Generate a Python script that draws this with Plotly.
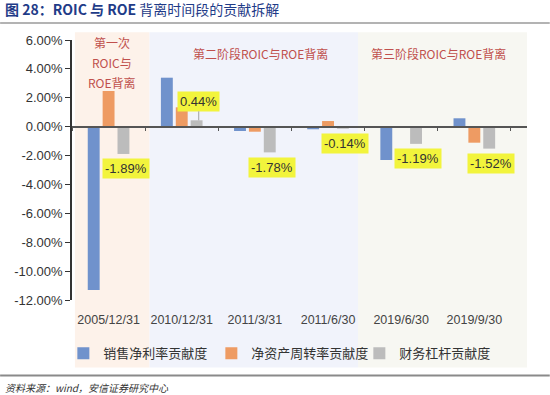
import plotly.graph_objects as go

categories = ["2005/12/31", "2010/12/31", "2011/3/31", "2011/6/30", "2019/6/30", "2019/9/30"]
net_margin = [-11.3, 3.39, -0.30, -0.18, -2.31, 0.58]
asset_turnover = [2.47, 1.34, -0.35, 0.39, 0.0, -1.11]
leverage = [-1.89, 0.44, -1.78, -0.14, -1.19, -1.52]
series_names = ["销售净利率贡献度", "净资产周转率贡献度", "财务杠杆贡献度"]
y_ticks = [6, 4, 2, 0, -2, -4, -6, -8, -10, -12]
y_tick_text = ["%.2f%%" % v for v in y_ticks]

# shaded phases: (start, end) in category units
phase_spans = [(-0.46, 0.56), (0.56, 3.41), (3.41, 5.72)]
phase_colors = ["#fdf2ea", "#f1f3fb", "#f7f7f2"]
phase1_lines = ["第一次", "ROIC与", "ROE背离"]
phase_labels = ["第二阶段ROIC与ROE背离", "第三阶段ROIC与ROE背离"]
phase_label_x = [2.07, 4.51]

colors = ["#7092cc", "#ee9b63", "#bcbcbc"]

fig = go.Figure()
for name, vals, c in zip(series_names, [net_margin, asset_turnover, leverage], colors):
    fig.add_trace(go.Bar(x=categories, y=vals, name=name, marker_color=c,
                         marker_line_width=0, hoverinfo="skip"))

# invisible trace on the zero-line axis
fig.add_trace(go.Scatter(x=categories, y=[0]*len(categories), xaxis="x2", mode="markers",
                         marker=dict(opacity=0), showlegend=False, hoverinfo="skip"))

shapes = []
for (a, b), col in zip(phase_spans, phase_colors):
    shapes.append(dict(type="rect", xref="x", yref="paper", x0=a, x1=b, y0=-0.26, y1=1.03,
                       fillcolor=col, line_width=0, layer="below"))
# header and footer rules
shapes.append(dict(type="line", xref="paper", yref="paper", x0=-0.158, x1=1.05, y0=1.065, y1=1.065,
                   line=dict(color="#9a9a9a", width=1.5)))
shapes.append(dict(type="line", xref="paper", yref="paper", x0=-0.158, x1=1.05, y0=-0.29, y1=-0.29,
                   line=dict(color="#8a8a8a", width=2)))

label_font = dict(family="Noto Sans CJK SC", size=12, color="#c0504d")
annotations = []
for k, line in enumerate(phase1_lines):
    annotations.append(dict(x=0.04, y=4.43, xref="x", yref="y", text=line, showarrow=False,
                            yshift=20 - 20 * k, font=label_font))
for txt, px in zip(phase_labels, phase_label_x):
    annotations.append(dict(x=px, y=5.05, xref="x", yref="y", text=txt,
                            showarrow=False, font=label_font))

for i, (cat, v) in enumerate(zip(categories, leverage)):
    label = "%.2f%%" % v
    common = dict(x=cat, y=v, xref="x", yref="y", text=label, xshift=17,
                  font=dict(family="Arial", size=13, color="#333333"),
                  bgcolor="#f2f43c", borderpad=2)
    if v > 0:
        annotations.append(dict(**common, showarrow=True, arrowhead=0, arrowcolor="#a0a0a0",
                                arrowwidth=1, ax=0, ay=-19))
    else:
        annotations.append(dict(**common, showarrow=False, yshift=-15))

annotations.append(dict(xref="paper", yref="paper", x=-0.152, y=1.12, xanchor="left", yanchor="middle",
                        text="<b>图 28：ROIC 与 ROE</b> 背离时间段的贡献拆解", showarrow=False,
                        font=dict(family="Noto Sans CJK SC", size=14, color="#1f3c88")))
annotations.append(dict(xref="paper", yref="paper", x=-0.152, y=-0.335, xanchor="left", yanchor="middle",
                        text="<i>资料来源：wind，安信证券研究中心</i>", showarrow=False,
                        font=dict(family="Noto Sans CJK SC", size=10, color="#333333")))

fig.update_layout(
    width=550, height=395,
    margin=dict(l=72, r=23, t=40, b=95),
    paper_bgcolor="white", plot_bgcolor="rgba(0,0,0,0)",
    barmode="group", bargap=0.39, bargroupgap=0.2,
    showlegend=True,
    legend=dict(orientation="h", x=-0.019, xanchor="left", y=-0.205, yanchor="middle",
                font=dict(family="Noto Sans CJK SC", size=13, color="#333333"),
                bgcolor="rgba(0,0,0,0)", itemwidth=30, tracegroupgap=0,
                entrywidth=103, entrywidthmode="pixels"),
    xaxis=dict(type="category", categoryorder="array", categoryarray=categories,
               showline=False, ticks="", showgrid=False, zeroline=False, ticklabelstandoff=10,
               tickfont=dict(family="Arial", size=12.5, color="#444444")),
    xaxis2=dict(type="category", categoryorder="array", categoryarray=categories, matches="x",
                overlaying="x", anchor="free", position=(0 - y_ticks[-1]) / (y_ticks[0] - y_ticks[-1]),
                showline=True, linecolor="#555555", linewidth=1.5,
                ticks="outside", tickson="boundaries", ticklen=4, tickcolor="#555555",
                showticklabels=False, showgrid=False, zeroline=False),
    yaxis=dict(range=[y_ticks[-1], y_ticks[0]], tickvals=y_ticks, ticktext=y_tick_text,
               showline=True, linecolor="#333333", linewidth=1.5, ticks="outside", ticklen=5,
               tickcolor="#333333", showgrid=False, zeroline=False,
               tickfont=dict(family="Arial", size=13, color="#333333")),
    shapes=shapes, annotations=annotations,
)

fig.write_html("out.html", config={"displayModeBar": False},
               post_script="document.body.style.margin='0';")
